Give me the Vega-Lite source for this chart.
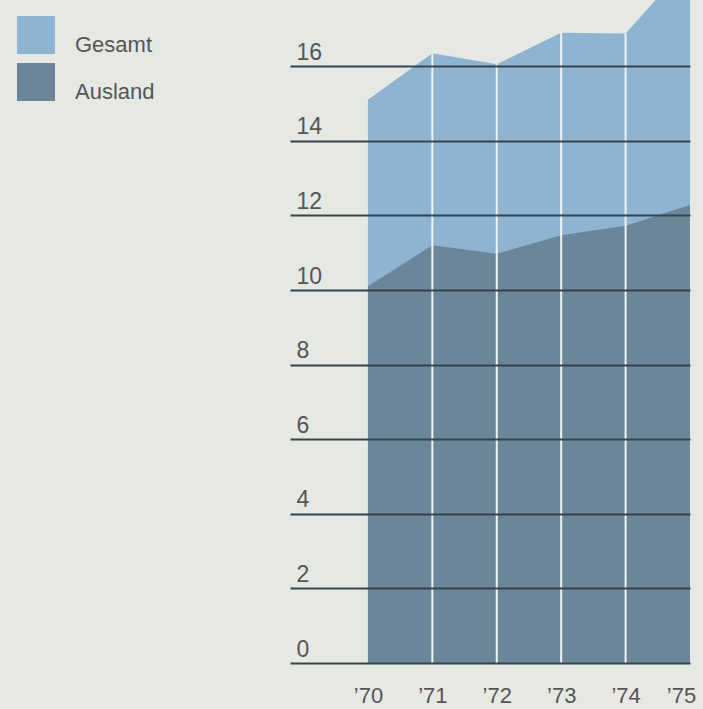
{
  "$schema": "https://vega.github.io/schema/vega-lite/v6.json",
  "width": 400,
  "height": 663,
  "autosize": {"type": "none"},
  "padding": {"left": 290, "top": 0, "right": 13, "bottom": 46},
  "background": "#e6e8e4",
  "config": {
    "view": {"stroke": null},
    "font": "Liberation Sans"
  },
  "data": {
    "values": [
      {"year": 1970, "series": "Gesamt", "value": 15.1},
      {"year": 1971, "series": "Gesamt", "value": 16.35},
      {"year": 1972, "series": "Gesamt", "value": 16.05},
      {"year": 1973, "series": "Gesamt", "value": 16.9},
      {"year": 1974, "series": "Gesamt", "value": 16.88},
      {"year": 1975, "series": "Gesamt", "value": 18.8},
      {"year": 1970, "series": "Ausland", "value": 10.1},
      {"year": 1971, "series": "Ausland", "value": 11.2},
      {"year": 1972, "series": "Ausland", "value": 10.97},
      {"year": 1973, "series": "Ausland", "value": 11.47},
      {"year": 1974, "series": "Ausland", "value": 11.72},
      {"year": 1975, "series": "Ausland", "value": 12.28}
    ]
  },
  "encoding": {
    "x": {
      "field": "year",
      "type": "quantitative",
      "scale": {"domain": [1968.79, 1975], "nice": false, "zero": false},
      "axis": {
        "values": [1970, 1971, 1972, 1973, 1974, 1975],
        "labelExpr": "'’' + substring(toString(datum.value), 2)",
        "title": null,
        "domain": false,
        "ticks": false,
        "tickSize": 0,
        "grid": false,
        "labelFontSize": 22,
        "labelColor": "#555555",
        "labelPadding": 22,
        "labelFlush": false,
        "labelOffset": {"condition": {"test": "datum.value == 1975", "value": -9}, "value": 0}
      }
    },
    "y": {
      "field": "value",
      "type": "quantitative",
      "stack": null,
      "scale": {"domain": [0, 17.775], "nice": false},
      "axis": {
        "values": [0, 2, 4, 6, 8, 10, 12, 14, 16],
        "title": null,
        "domain": false,
        "ticks": false,
        "tickSize": 0,
        "grid": true,
        "gridColor": "#34454f",
        "gridWidth": 2,
        "gridOpacity": 1,
        "zindex": 1,
        "labelAlign": "left",
        "labelBaseline": "bottom",
        "labelPadding": -6,
        "labelOffset": -2,
        "labelFontSize": 23,
        "labelColor": "#555555"
      }
    }
  },
  "layer": [
    {
      "transform": [{"filter": "datum.series == 'Gesamt'"}],
      "mark": {"type": "area", "clip": true, "opacity": 1},
      "encoding": {
        "color": {
          "field": "series",
          "type": "nominal",
          "scale": {"domain": ["Gesamt", "Ausland"], "range": ["#8fb4d2", "#6b8699"]},
          "legend": {
            "title": null,
            "orient": "none",
            "legendX": -273,
            "legendY": 16,
            "padding": 0,
            "symbolType": "square",
            "symbolSize": 1444,
            "symbolStrokeWidth": 0,
            "symbolOpacity": 1,
            "rowPadding": 7,
            "labelOffset": 20,
            "labelFontSize": 22,
            "labelColor": "#555555",
            "labelBaseline": "top"
          }
        }
      }
    },
    {
      "transform": [{"filter": "datum.series == 'Ausland'"}],
      "mark": {"type": "area", "clip": true, "opacity": 1},
      "encoding": {
        "color": {"field": "series", "type": "nominal"}
      }
    },
    {
      "transform": [{"filter": "datum.series == 'Gesamt' && datum.year > 1970 && datum.year < 1975"}],
      "mark": {"type": "rule", "color": "#eef3f5", "strokeWidth": 2, "clip": true},
      "encoding": {
        "y2": {"datum": 0}
      }
    }
  ]
}
